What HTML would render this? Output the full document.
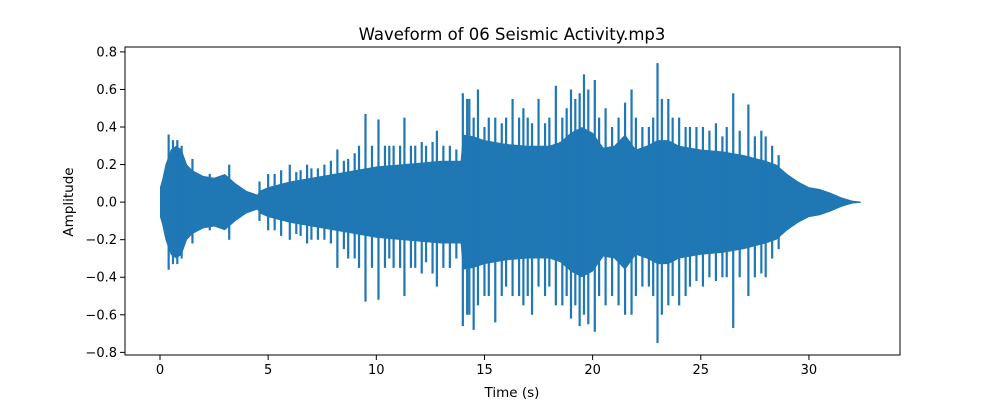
<!DOCTYPE html>
<html><head><meta charset="utf-8"><style>
body{margin:0;background:#fff}
svg text{font-family:"DejaVu Sans","Liberation Sans",sans-serif;fill:#000}
</style></head><body>
<svg id="chart" width="1000" height="400" viewBox="0 0 1000 400" xmlns="http://www.w3.org/2000/svg">
<rect width="1000" height="400" fill="#fff"/>
<text x="512" y="40" font-size="16.5" text-anchor="middle">Waveform of 06 Seismic Activity.mp3</text>
<g id="plot"></g>
<rect x="125" y="47" width="775" height="308" fill="none" stroke="#000" stroke-width="1"/>
<g id="axes"></g>
<text x="512" y="397" font-size="13.5" text-anchor="middle">Time (s)</text>
<text transform="translate(73,202) rotate(-90)" font-size="13.5" text-anchor="middle">Amplitude</text>
</svg>
<script>
const envT = [0,0.1,0.25,0.5,0.75,1,1.25,1.5,2,2.5,3,3.5,4,4.5,4.6,5,6,7,8,9,10,11,12,13,13.9,14,14.5,15,16,17,18,18.5,19,19.5,20,20.5,21,21.5,22,22.5,23,23.5,24,25,26,27,28,28.5,29,29.5,30,30.5,31,31.5,32,32.4];
const envHi = [0.08,0.12,0.2,0.28,0.3,0.28,0.2,0.17,0.14,0.13,0.15,0.1,0.06,0.04,0.06,0.08,0.11,0.13,0.15,0.17,0.19,0.2,0.21,0.22,0.22,0.36,0.35,0.33,0.31,0.3,0.3,0.32,0.37,0.4,0.37,0.29,0.3,0.36,0.28,0.3,0.33,0.33,0.3,0.28,0.27,0.25,0.22,0.2,0.15,0.11,0.08,0.07,0.05,0.025,0.008,0.003];
const spikeT = [0.4,0.6,0.8,1.0,1.5,2.3,3.2,4.6,5.0,5.3,5.6,6.0,6.3,6.5,6.8,7.0,7.3,7.6,7.9,8.2,8.5,8.7,9.0,9.2,9.5,9.8,10.1,10.4,10.6,10.8,11.1,11.3,11.6,11.8,12.1,12.3,12.6,12.8,13.1,13.4,13.7,14.0,14.2,14.3,14.5,14.7,15.0,15.2,15.5,15.8,16.0,16.3,16.6,16.8,17.0,17.2,17.5,17.8,18.0,18.3,18.6,18.8,19.0,19.2,19.4,19.6,19.8,20.1,20.3,20.6,20.9,21.2,21.5,21.8,22.0,22.3,22.6,22.8,23.0,23.2,23.5,23.7,24.0,24.3,24.5,24.8,25.1,25.4,25.7,26.0,26.2,26.5,26.8,27.2,27.5,27.8,28.0,28.3,28.6];
const spikeHi = [0.36,0.33,0.33,0.3,0.23,0.15,0.2,0.11,0.15,0.15,0.17,0.2,0.16,0.17,0.2,0.18,0.18,0.2,0.22,0.28,0.22,0.23,0.26,0.3,0.47,0.3,0.44,0.3,0.3,0.3,0.3,0.45,0.3,0.3,0.32,0.3,0.32,0.38,0.3,0.3,0.28,0.58,0.55,0.55,0.45,0.6,0.4,0.45,0.45,0.42,0.45,0.55,0.45,0.5,0.45,0.42,0.55,0.42,0.45,0.62,0.45,0.5,0.6,0.55,0.58,0.68,0.6,0.65,0.45,0.5,0.4,0.45,0.53,0.6,0.45,0.4,0.4,0.45,0.74,0.55,0.55,0.45,0.45,0.4,0.4,0.4,0.4,0.38,0.42,0.35,0.4,0.58,0.38,0.52,0.35,0.38,0.35,0.3,0.25];
const spikeLo = [-0.36,-0.33,-0.33,-0.3,-0.22,-0.15,-0.2,-0.1,-0.15,-0.15,-0.18,-0.2,-0.17,-0.18,-0.22,-0.2,-0.2,-0.2,-0.22,-0.35,-0.25,-0.3,-0.3,-0.35,-0.53,-0.35,-0.52,-0.35,-0.3,-0.35,-0.35,-0.5,-0.35,-0.35,-0.38,-0.32,-0.38,-0.45,-0.35,-0.35,-0.3,-0.66,-0.6,-0.6,-0.68,-0.55,-0.5,-0.5,-0.64,-0.5,-0.45,-0.5,-0.5,-0.55,-0.5,-0.6,-0.45,-0.5,-0.45,-0.55,-0.55,-0.5,-0.62,-0.55,-0.66,-0.6,-0.65,-0.69,-0.5,-0.55,-0.5,-0.55,-0.6,-0.6,-0.5,-0.45,-0.45,-0.5,-0.75,-0.6,-0.55,-0.5,-0.55,-0.5,-0.45,-0.42,-0.45,-0.4,-0.42,-0.4,-0.4,-0.67,-0.4,-0.5,-0.4,-0.38,-0.4,-0.3,-0.25];
const xTicks = [0,5,10,15,20,25,30];
const yTicks = [-0.8,-0.6,-0.4,-0.2,0.0,0.2,0.4,0.6,0.8];

const X0=125,X1=900,Y0=47,Y1=355, tMin=-1.618, tMax=34.21, aMin=-0.814, aMax=0.826;
const sx=t=>X0+(t-tMin)/(tMax-tMin)*(X1-X0);
const sy=a=>Y1-(a-aMin)/(aMax-aMin)*(Y1-Y0);
const NS="http://www.w3.org/2000/svg";
const plot=document.getElementById('plot'), axes=document.getElementById('axes');
const C="#1f77b4";
let pts=envT.map((t,i)=>sx(t)+","+sy(envHi[i]));
for(let i=envT.length-1;i>=0;i--) pts.push(sx(envT[i])+","+sy(-envHi[i]));
const poly=document.createElementNS(NS,'polygon');


poly.setAttribute('points',pts.join(' '));poly.setAttribute('fill',C);
plot.appendChild(poly);
spikeT.forEach((t,i)=>{
  const l=document.createElementNS(NS,'line');
  
  
  l.setAttribute('x1',sx(t));l.setAttribute('x2',sx(t));
  l.setAttribute('y1',sy(spikeHi[i]));l.setAttribute('y2',sy(spikeLo[i]));
  l.setAttribute('stroke',C);l.setAttribute('stroke-width','2.2');
  plot.appendChild(l);
});
xTicks.forEach(v=>{
  const x=sx(v);
  const l=document.createElementNS(NS,'line');
  
  
  l.setAttribute('x1',x);l.setAttribute('x2',x);l.setAttribute('y1',Y1);l.setAttribute('y2',Y1+5);l.setAttribute('stroke','#000');
  axes.appendChild(l);
  const tx=document.createElementNS(NS,'text');
  
  
  tx.setAttribute('x',x);tx.setAttribute('y',Y1+19);tx.setAttribute('font-size','13');tx.setAttribute('text-anchor','middle');
  tx.textContent=String(v);axes.appendChild(tx);
});
yTicks.forEach(v=>{
  const y=sy(v);
  const l=document.createElementNS(NS,'line');
  
  
  l.setAttribute('x1',X0-5);l.setAttribute('x2',X0);l.setAttribute('y1',y);l.setAttribute('y2',y);l.setAttribute('stroke','#000');
  axes.appendChild(l);
  const tx=document.createElementNS(NS,'text');
  
  
  tx.setAttribute('x',X0-8);tx.setAttribute('y',y+4.5);tx.setAttribute('font-size','13');tx.setAttribute('text-anchor','end');
  tx.textContent=(v<0?"\u2212":"")+Math.abs(v).toFixed(1);axes.appendChild(tx);
});
</script>
</body></html>
